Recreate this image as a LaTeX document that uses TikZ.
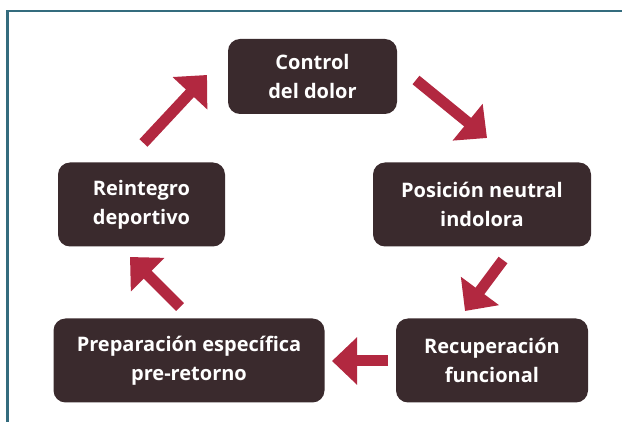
\documentclass[tikz,border=0pt]{standalone}
\usepackage{fontspec}
\setmainfont{Open Sans}
\usepackage{tikz}
\usepackage{xcolor}
\usetikzlibrary{arrows.meta, positioning}
\definecolor{cajafondo}{RGB}{58, 42, 45}
\definecolor{flechacolor}{RGB}{178, 40, 64}
\definecolor{marcoazul}{RGB}{52, 108, 126}

\tikzset{
  caja/.style = {rectangle, rounded corners=12pt, fill=cajafondo, text=white,
    align=center, inner sep=0pt, minimum height=84pt,
    font=\fontsize{20}{29}\selectfont\bfseries},
  flecha/.style = {draw=flechacolor, line width=11pt,
    -{Triangle[length=25pt, width=46pt]}},
  marco/.style = {draw=marcoazul, line width=2.2pt}
}

\begin{document}
\begin{tikzpicture}[x=1pt, y=-1pt]
      \useasboundingbox (0,0) rectangle (622,422);
      \draw[marco] (7.5,422) -- (7.5,10.8) -- (622,10.8);
      \begin{scope}[every node/.style = {caja}]
        \node[minimum width=169pt, minimum height=75pt] (control) at (312.5,76.5) {Control\\del dolor};
        \node[minimum width=218pt] (posicion) at (482,204.5) {Posición neutral\\indolora};
        \node[minimum width=192pt] (recuperacion) at (492,360.5) {Recuperación\\funcional};
        \node[minimum width=271pt] (preparacion) at (189,360.5) {Preparación específica\\pre-retorno};
        \node[minimum width=167pt] (reintegro) at (141.5,204.5) {Reintegro\\deportivo};
      \end{scope}
      \coordinate (f1a) at (143.5,143);
      \coordinate (f1b) at (207,75);
      \coordinate (f2a) at (416,80);
      \coordinate (f2b) at (487,138);
      \coordinate (f3a) at (503,260);
      \coordinate (f3b) at (465,311);
      \coordinate (f4a) at (388,361);
      \coordinate (f4b) at (332,361);
      \coordinate (f5a) at (180,307);
      \coordinate (f5b) at (130,257);
      \foreach \n in {1, 2, 3, 4, 5}{
        \draw[flecha] (f\n a) -- (f\n b);
      }
    \end{tikzpicture}
\end{document}
